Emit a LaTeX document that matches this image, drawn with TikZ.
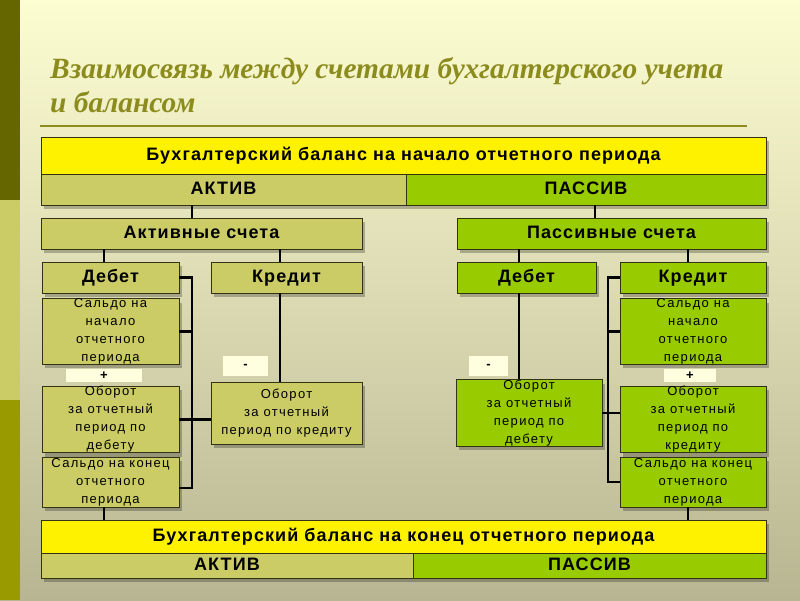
\documentclass[tikz,border=0pt]{standalone}
\usepackage{fontspec}
\setmainfont{Liberation Sans}[LetterSpace=6]
\newfontfamily\smallfont{Liberation Sans}[LetterSpace=10]
\newfontfamily\titlefont{Liberation Serif}
\usepackage{tikz}
\usetikzlibrary{calc}
\usetikzlibrary{shadows}
\definecolor{bgtop}{RGB}{253,253,210}
\definecolor{bgbot}{RGB}{184,182,146}
\definecolor{sidedark}{RGB}{102,102,0}
\definecolor{sidelight}{RGB}{204,204,102}
\definecolor{sideolive}{RGB}{153,153,0}
\definecolor{titleolive}{RGB}{140,140,30}
\definecolor{olivebg}{RGB}{204,204,102}
\definecolor{greenbg}{RGB}{153,204,0}
\definecolor{boxline}{RGB}{51,51,20}
\definecolor{signbg}{RGB}{255,255,224}
\tikzset{
 box/.style={draw=boxline, line width=.8pt, inner sep=0, align=center, text=black,
   drop shadow={shadow xshift=3pt, shadow yshift=-4pt, opacity=.25, fill=black}},
 akt/.style={box, fill=olivebg},
 pas/.style={box, fill=greenbg},
 head/.style={box, fill=yellow},
 big/.style={font=\bfseries\fontsize{18}{18}\selectfont, text height=13pt, text depth=3pt},
 small/.style={font=\smallfont\fontsize{13}{18}\selectfont},
 sign/.style={fill=signbg, inner sep=0, font=\bfseries\fontsize{13}{13}\selectfont},
 link/.style={black, line width=2.6pt}
}

\begin{document}
\begin{tikzpicture}[x=1pt, y=-1pt]
\useasboundingbox (0,0) rectangle (800,600);
\shade[top color=bgtop, bottom color=bgbot] (0,0) rectangle (800,600);
\fill[sidedark] (0,0) rectangle (20,200);
\fill[sidelight] (0,200) rectangle (20,400);
\fill[sideolive] (0,400) rectangle (20,600);

% title
\node[anchor=base west, align=left, text=titleolive, inner sep=0,
  font=\titlefont\bfseries\itshape\fontsize{29.4}{34}\selectfont] (title) at (50,112)
  {Взаимосвязь между счетами бухгалтерского учета\\и балансом};
\draw[titleolive, line width=1.5pt] (40,126) -- (747,126);

% balance at the start
\node[head, big, minimum width=725pt, minimum height=37pt] (top) at (403.5,155.5)
  {Бухгалтерский баланс на начало отчетного периода};
\node[akt, big, minimum width=365pt, minimum height=31pt] (aktiv1) at (223.5,189.5) {АКТИВ};
\node[pas, big, minimum width=360pt, minimum height=31pt] (passiv1) at (586,189.5) {ПАССИВ};

% account groups
\node[akt, big, minimum width=321pt, minimum height=31pt] (aktsch) at (201.5,233.5) {Активные счета};
\node[pas, big, minimum width=309pt, minimum height=31pt] (passch) at (611.5,233.5) {Пассивные счета};

% active accounts
\node[akt, big, minimum width=137pt, minimum height=31pt] (debA) at (110.5,277.5) {Дебет};
\node[akt, big, minimum width=151pt, minimum height=31pt] (kredA) at (286.5,277.5) {Кредит};
\node[akt, small, minimum width=137pt, minimum height=63pt] (snA) at (110.5,331.5)
  {Сальдо на\\начало\\отчетного\\периода};
\node[sign, minimum width=76pt, minimum height=13pt] (plusA) at (104,375.5) {+};
\node[akt, small, minimum width=137pt, minimum height=63pt] (obA) at (110.5,419.5)
  {Оборот\\за отчетный\\период по\\дебету};
\node[akt, small, minimum width=137pt, minimum height=50pt] (skA) at (110.5,482)
  {Сальдо на конец\\отчетного\\периода};
\node[sign, minimum width=45pt, minimum height=20pt] (minusA) at (245.5,366) {-};
\node[akt, small, minimum width=151pt, minimum height=62pt] (obkA) at (286.5,413)
  {Оборот\\за отчетный\\период по кредиту};

% passive accounts
\node[pas, big, minimum width=139pt, minimum height=31pt] (debP) at (526.5,277.5) {Дебет};
\node[pas, big, minimum width=146pt, minimum height=31pt] (kredP) at (693,277.5) {Кредит};
\node[sign, minimum width=39pt, minimum height=20pt] (minusP) at (488.5,366) {-};
\node[pas, small, minimum width=146pt, minimum height=62pt] (obdP) at (529,413)
  {Оборот\\за отчетный\\период по\\дебету};
\node[pas, small, minimum width=146pt, minimum height=63pt] (snP) at (693,331.5)
  {Сальдо на\\начало\\отчетного\\периода};
\node[sign, minimum width=52pt, minimum height=13pt] (plusP) at (690,375.5) {+};
\node[pas, small, minimum width=146pt, minimum height=63pt] (obP) at (693,419.5)
  {Оборот\\за отчетный\\период по\\кредиту};
\node[pas, small, minimum width=146pt, minimum height=50pt] (skP) at (693,482)
  {Сальдо на конец\\отчетного\\периода};

% balance at the end
\node[head, big, minimum width=725pt, minimum height=33pt] (bot) at (403.5,536.5)
  {Бухгалтерский баланс на конец отчетного периода};
\node[akt, big, minimum width=372pt, minimum height=25pt] (aktiv2) at (227,565.5) {АКТИВ};
\node[pas, big, minimum width=353pt, minimum height=25pt] (passiv2) at (589.5,565.5) {ПАССИВ};

% connectors
\coordinate (xa) at (192,0);
\coordinate (xp) at (595,0);
\coordinate (xd) at (104,0);
\coordinate (xk) at (280,0);
\coordinate (xdp) at (519,0);
\coordinate (xkp) at (688,0);
\coordinate (xbp) at (608,0);
\draw[link] (aktiv1.south -| xa) -- (aktsch.north -| xa);
\draw[link] (passiv1.south -| xp) -- (passch.north -| xp);
\draw[link] (aktsch.south -| xd) -- (debA.north -| xd);
\draw[link] (aktsch.south -| xk) -- (kredA.north -| xk);
\draw[link] (passch.south -| xdp) -- (debP.north -| xdp);
\draw[link] (passch.south -| xkp) -- (kredP.north -| xkp);
\draw[link] (kredA.south -| xk) -- (obkA.north -| xk);
\draw[link] (debP.south -| xdp) -- (obdP.north -| xdp);
\draw[link] (skA.south -| xd) -- (bot.north -| xd);
\draw[link] (skP.south -| xkp) -- (bot.north -| xkp);
% left bracket
\draw[link] (debA.east) -- (debA.east -| xa) -- ($(skA.east -| xa)+(0,6)$) -- ($(skA.east)+(0,6)$);
\draw[link] (snA.east) -- (snA.east -| xa);
\draw[link] (obA.east) -- (obkA.west |- obA.east);
% right bracket
\draw[link] (kredP.west) -- (kredP.west -| xbp) -- (skP.west -| xbp) -- (skP.west);
\draw[link] (snP.west) -- (snP.west -| xbp);
\draw[link] (obdP.east) -- (obP.west |- obdP.east);
\end{tikzpicture}
\end{document}
